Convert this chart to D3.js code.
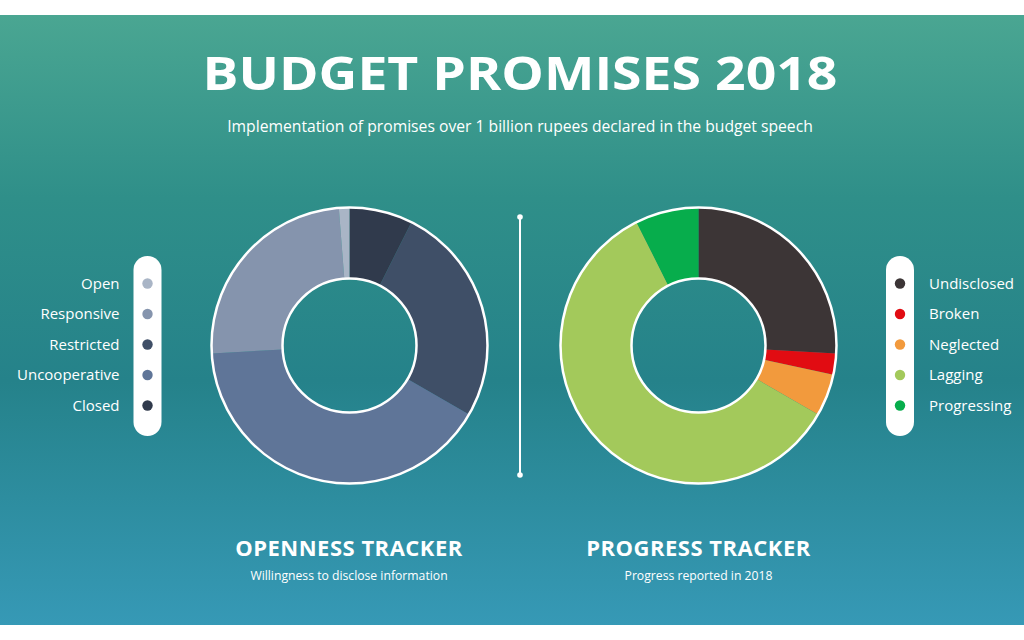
<!DOCTYPE html>
<html>
<head>
<meta charset="utf-8">
<script src="https://cdn.jsdelivr.net/npm/d3@7"></script>
<style>
  body { margin: 0; background: #fff; }
  svg { display: block; }
  text { font-family: "Open Sans", Lato, sans-serif; fill: #fff; }
</style>
</head>
<body>
<div id="chart"></div>
<script>
// Openness tracker (legend order)
const opennessLabels = ["Open", "Responsive", "Restricted", "Uncooperative", "Closed"];
const opennessValues = [1, 20, 21, 33, 6];
const opennessColors = ["#a9b5c6", "#8594ad", "#3f4f67", "#5f7598", "#303a4c"];
// order the slices run clockwise from the top
const opennessPieOrder = ["Closed", "Restricted", "Uncooperative", "Responsive", "Open"];

// Progress tracker
const progressLabels = ["Undisclosed", "Broken", "Neglected", "Lagging", "Progressing"];
const progressValues = [21, 2, 4, 48, 6];
const progressColors = ["#3c3536", "#e10c12", "#f29a3d", "#a3c95b", "#07ad4c"];

const width = 1024, height = 640;

const svg = d3.select("#chart")
    .append("svg")
    .attr("width", width)
    .attr("height", height);

// Background banner
const defs = svg.append("defs");
const grad = defs.append("linearGradient")
    .attr("id", "bg")
    .attr("x1", 0).attr("y1", 0).attr("x2", 0).attr("y2", 1);
grad.append("stop").attr("offset", "0%").attr("stop-color", "#4aa692");
grad.append("stop").attr("offset", "30%").attr("stop-color", "#2f8f89");
grad.append("stop").attr("offset", "60%").attr("stop-color", "#25828a");
grad.append("stop").attr("offset", "100%").attr("stop-color", "#3699b6");

svg.append("rect")
    .attr("x", 0).attr("y", 15)
    .attr("width", width).attr("height", 610)
    .attr("fill", "url(#bg)");

// Title
svg.append("text")
    .attr("x", 520).attr("y", 90)
    .attr("text-anchor", "middle")
    .attr("textLength", 635)
    .attr("lengthAdjust", "spacingAndGlyphs")
    .style("font-size", "46px")
    .style("font-weight", 700)
    .text("BUDGET PROMISES 2018");

svg.append("text")
    .attr("x", 520).attr("y", 132)
    .attr("text-anchor", "middle")
    .style("font-size", "15.7px")
    .text("Implementation of promises over 1 billion rupees declared in the budget speech");

// Divider
svg.append("line")
    .attr("x1", 520).attr("x2", 520)
    .attr("y1", 217).attr("y2", 475)
    .attr("stroke", "#fff").attr("stroke-width", 2);
svg.selectAll(".end-dot")
    .data([217, 475])
    .enter().append("circle")
    .attr("cx", 520).attr("cy", d => d)
    .attr("r", 2.8)
    .attr("fill", "#fff");

const outerR = 138, innerR = 67;

function drawDonut(cx, cy, labels, values, colors, order) {
    const slices = order.map(name => {
        const i = labels.indexOf(name);
        return { label: name, value: values[i], color: colors[i] };
    });
    const pie = d3.pie().sort(null).value(d => d.value);
    const arc = d3.arc().innerRadius(innerR).outerRadius(outerR);
    const g = svg.append("g").attr("transform", "translate(" + cx + "," + cy + ")");

    g.selectAll("path")
        .data(pie(slices))
        .enter().append("path")
        .attr("d", arc)
        .attr("fill", d => d.data.color);

    // white rings around the donut
    g.append("circle").attr("r", outerR).attr("fill", "none")
        .attr("stroke", "#fff").attr("stroke-width", 2.5);
    g.append("circle").attr("r", innerR).attr("fill", "none")
        .attr("stroke", "#fff").attr("stroke-width", 2.5);
}

function drawLegend(pillX, labels, colors, side) {
    const y = d3.scalePoint().domain(labels).range([283.5, 405.5]);
    const g = svg.append("g");

    g.append("rect")
        .attr("x", pillX - 14).attr("y", 256)
        .attr("width", 28).attr("height", 180)
        .attr("rx", 14).attr("ry", 14)
        .attr("fill", "#fff");

    g.selectAll("circle")
        .data(labels)
        .enter().append("circle")
        .attr("cx", pillX)
        .attr("cy", d => y(d))
        .attr("r", 5.2)
        .attr("fill", (d, i) => colors[i]);

    g.selectAll("text")
        .data(labels)
        .enter().append("text")
        .attr("x", side === "left" ? pillX - 28 : pillX + 29)
        .attr("y", d => y(d))
        .attr("dy", "0.35em")
        .attr("text-anchor", side === "left" ? "end" : "start")
        .style("font-size", "15px")
        .text(d => d);
}

drawDonut(349.5, 345.5, opennessLabels, opennessValues, opennessColors, opennessPieOrder);
drawDonut(698.5, 345.5, progressLabels, progressValues, progressColors, progressLabels);

drawLegend(147.5, opennessLabels, opennessColors, "left");
drawLegend(900, progressLabels, progressColors, "right");

// Tracker captions
const captions = [
    { x: 349, title: "OPENNESS TRACKER", sub: "Willingness to disclose information" },
    { x: 698.5, title: "PROGRESS TRACKER", sub: "Progress reported in 2018" }
];
captions.forEach(c => {
    svg.append("text")
        .attr("x", c.x).attr("y", 556)
        .attr("text-anchor", "middle")
        .style("font-size", "22px")
        .style("font-weight", 700)
        .style("letter-spacing", "0.5px")
        .text(c.title);
    svg.append("text")
        .attr("x", c.x).attr("y", 580)
        .attr("text-anchor", "middle")
        .style("font-size", "12.2px")
        .text(c.sub);
});
</script>
</body>
</html>
